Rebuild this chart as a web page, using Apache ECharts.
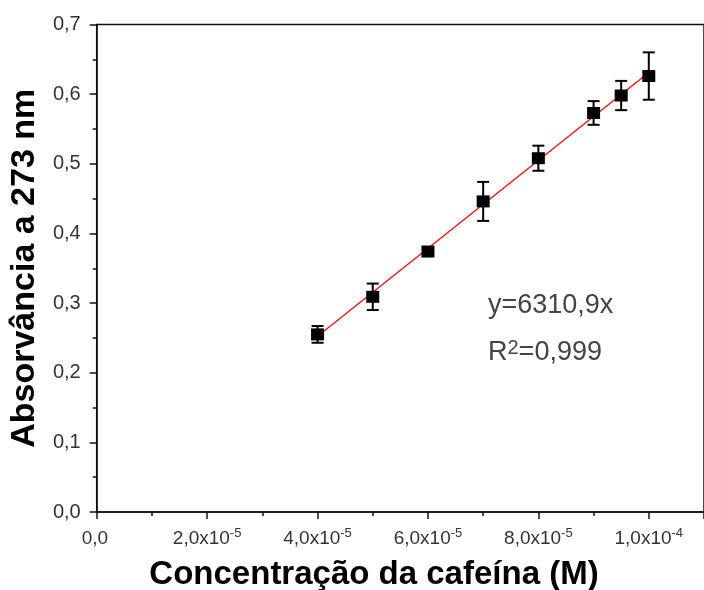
<!DOCTYPE html>
<html>
<head>
<meta charset="utf-8">
<script src="https://cdn.jsdelivr.net/npm/echarts@6/dist/echarts.min.js"></script>
<style>
	html, body { margin: 0; padding: 0; background: #fff; }
	#chart { width: 704px; height: 590px; }
</style>
</head>
<body>
<div id="chart"></div>
<script>
/*数据*/
const concX = [4e-5, 5e-5, 6e-5, 7e-5, 8e-5, 9e-5, 9.5e-5, 1e-4];
const absY = [0.255, 0.309, 0.374, 0.446, 0.508, 0.573, 0.598, 0.626];
const errY = [0.012, 0.019, 0.005, 0.028, 0.018, 0.017, 0.021, 0.034];
/*拟合直线 y=6310,9x*/
const fitX = [4e-5, 1e-4];
const fitY = [0.2524, 0.6311];
/*刻度标签*/
const xTickMant = ['0,0', '2,0x10', '4,0x10', '6,0x10', '8,0x10', '1,0x10'];
const xTickExp = ['', '-5', '-5', '-5', '-5', '-4'];
const yTickLabels = ['0,0', '0,1', '0,2', '0,3', '0,4', '0,5', '0,6', '0,7'];

const font = '"Liberation Sans", Arial, sans-serif';
let myChart = echarts.init(document.getElementById('chart'));

let option = {
	animation: false,
	grid: {
		left: 96,
		top: 24.5,
		right: -8,
		bottom: 78,
		show: true,
		borderColor: '#111',
		borderWidth: 1.5,
		backgroundColor: 'transparent'
	},
	xAxis: {
		type: 'value',
		min: 0,
		max: 1.1e-4,
		interval: 2e-5,
		splitLine: { show: false },
		axisLine: { lineStyle: { color: '#111', width: 1.5 } },
		axisTick: { length: 7, lineStyle: { color: '#111', width: 1.5 } },
		minorTick: { show: true, splitNumber: 2, length: 4, lineStyle: { color: '#111', width: 1.5 } },
		axisLabel: {
			margin: 15,
			showMaxLabel: false,
			formatter: function(v) {
				let i = Math.round(v / 2e-5);
				if (i >= xTickMant.length) return '';
				// 0,0 没有指数，用空的上标占位保持基线一致
				let exp = xTickExp[i] || ' ';
				return '{m|' + xTickMant[i] + '}{s|' + exp + '}';
			},
			rich: {
				m: { fontFamily: font, fontSize: 19, color: '#333' },
				s: { fontFamily: font, fontSize: 13, color: '#333', padding: [0, 0, 10, 0] }
			}
		}
	},
	yAxis: {
		type: 'value',
		min: 0,
		max: 0.7,
		interval: 0.1,
		name: 'Absorvância a 273 nm',
		nameLocation: 'middle',
		nameGap: 50,
		nameTextStyle: { fontFamily: font, fontSize: 34, fontWeight: 'bold', color: '#000' },
		splitLine: { show: false },
		axisLine: { lineStyle: { color: '#111', width: 1.5 } },
		axisTick: { length: 7, lineStyle: { color: '#111', width: 1.5 } },
		minorTick: { show: true, splitNumber: 2, length: 4, lineStyle: { color: '#111', width: 1.5 } },
		axisLabel: {
			margin: 16,
			fontFamily: font,
			fontSize: 20,
			color: '#333',
			formatter: function(v) {
				return yTickLabels[Math.round(v * 10)];
			}
		}
	},
	graphic: [
		{
			type: 'text',
			style: {
				x: 374,
				y: 575,
				text: 'Concentração da cafeína (M)',
				font: 'bold 33px ' + font,
				fill: '#000',
				align: 'center',
				verticalAlign: 'middle'
			}
		},
		{
			type: 'text',
			style: {
				x: 488,
				y: 306,
				text: 'y=6310,9x',
				font: '27px ' + font,
				fill: '#444',
				verticalAlign: 'middle'
			}
		},
		{
			type: 'text',
			style: {
				x: 488,
				y: 353,
				text: '{a|R}{s|2}{a|=0,999}',
				verticalAlign: 'middle',
				rich: {
					a: { fontFamily: font, fontSize: 27, fill: '#444', color: '#444' },
					s: { fontFamily: font, fontSize: 20, fill: '#444', color: '#444', padding: [0, 0, 10, 0] }
				}
			}
		}
	],
	series: [
		{
			name: 'fit',
			type: 'line',
			data: fitX.map((x, i) => [x, fitY[i]]),
			symbol: 'none',
			lineStyle: { color: '#ff0000', width: 1.2 },
			z: 3
		},
		{
			name: 'err',
			type: 'custom',
			data: concX.map((x, i) => [x, absY[i] - errY[i], absY[i] + errY[i]]),
			renderItem: function(params, api) {
				let lo = api.coord([api.value(0), api.value(1)]);
				let hi = api.coord([api.value(0), api.value(2)]);
				let w = 6;
				let style = { stroke: '#000', lineWidth: 2 };
				return {
					type: 'group',
					children: [
						{ type: 'line', shape: { x1: hi[0], y1: hi[1], x2: lo[0], y2: lo[1] }, style: style },
						{ type: 'line', shape: { x1: hi[0] - w, y1: hi[1], x2: hi[0] + w, y2: hi[1] }, style: style },
						{ type: 'line', shape: { x1: lo[0] - w, y1: lo[1], x2: lo[0] + w, y2: lo[1] }, style: style }
					]
				};
			},
			z: 2
		},
		{
			name: 'data',
			type: 'scatter',
			data: concX.map((x, i) => [x, absY[i]]),
			symbol: 'rect',
			symbolSize: [13, 12],
			itemStyle: { color: '#000', opacity: 1 },
			z: 4
		}
	]
};

myChart.setOption(option);
</script>
</body>
</html>
